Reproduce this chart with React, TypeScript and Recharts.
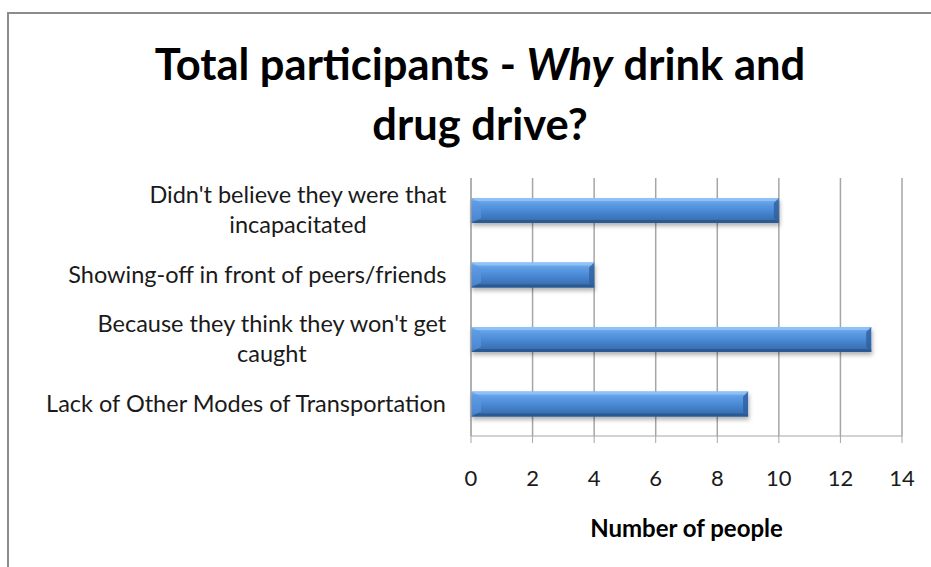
import { BarChart, Bar, XAxis, YAxis, CartesianGrid } from "recharts";

const categories = [
  "Didn't believe they were that\nincapacitated",
  "Showing-off in front of peers/friends",
  "Because they think they won't get\ncaught",
  "Lack of Other Modes of Transportation",
];
const people = [10, 4, 13, 9];
const xTicks = [0, 2, 4, 6, 8, 10, 12, 14];

const data = categories.map((reason, i) => ({ reason, people: people[i] }));

const FONT = "Lato, 'Open Sans', sans-serif";
const LABEL_SIZE = 23.5;

let ctx: CanvasRenderingContext2D | null = null;
function textWidth(s: string) {
  if (!ctx) ctx = document.createElement("canvas").getContext("2d");
  if (!ctx) return s.length * 11;
  ctx.font = `${LABEL_SIZE}px Lato`;
  return ctx.measureText(s).width;
}

// wrapped category label, lines centred on each other, block right aligned
function ReasonTick(props: any) {
  const { x, y, payload } = props;
  const lines: string[] = String(payload.value).split("\n");
  const right = x - 16;
  const widest = Math.max(...lines.map(textWidth));
  const cx = right - widest / 2;
  const lh = 30;
  const y0 = y - ((lines.length - 1) * lh) / 2;
  return (
    <g>
      {lines.map((line, i) => (
        <text
          key={i}
          x={cx}
          y={y0 + i * lh}
          dy="0.35em"
          textAnchor="middle"
          fontSize={LABEL_SIZE}
          fontFamily={FONT}
          fill="#1a1a1a"
        >
          {line}
        </text>
      ))}
    </g>
  );
}

function CylinderBar(props: any) {
  const { x, y, width, height } = props;
  if (!width || width <= 0) return null;
  const b = 5;
  return (
    <g filter="url(#barShadow)">
      <rect x={x} y={y} width={width} height={height} fill="url(#barBody)" />
      <rect x={x} y={y} width={width} height={3} fill="#8fc0f6" />
      <rect x={x} y={y + height - 3} width={width} height={3} fill="#2c5a94" />
      <polygon
        points={`${x},${y} ${x + b * 2},${y + b} ${x + b * 2},${y + height - b} ${x},${y + height}`}
        fill="#5b98e0"
        opacity={0.6}
      />
      <polygon
        points={`${x + width},${y} ${x + width - b},${y + b} ${x + width - b},${y + height - b} ${x + width},${y + height}`}
        fill="#2f5f9e"
        opacity={0.8}
      />
    </g>
  );
}

export default function App() {
  return (
    <div
      style={{
        position: "absolute",
        left: 0,
        top: 0,
        width: 931,
        height: 567,
        background: "#fff",
        overflow: "hidden",
        fontFamily: FONT,
      }}
    >
      <div
        style={{
          position: "absolute",
          left: 7,
          top: 12,
          width: 940,
          height: 600,
          borderLeft: "2px solid #8c8c8c",
          borderTop: "2px solid #8c8c8c",
        }}
      />
      <div
        style={{
          position: "absolute",
          left: 10,
          top: 33,
          width: 940,
          textAlign: "center",
          fontSize: 43.5,
          fontWeight: 700,
          lineHeight: "60px",
          color: "#000",
        }}
      >
        Total participants - <i>Why</i> drink and
        <br />
        drug drive?
      </div>
      <div style={{ position: "absolute", left: 0, top: 0 }}>
        <BarChart
          width={931}
          height={567}
          data={data}
          layout="vertical"
          margin={{ top: 178, right: 29, bottom: 101, left: 0 }}
          barSize={25}
        >
          <defs>
            <linearGradient id="barBody" x1="0" y1="0" x2="0" y2="1">
              <stop offset="0%" stopColor="#7ab2f0" />
              <stop offset="25%" stopColor="#5c9be4" />
              <stop offset="60%" stopColor="#4583cf" />
              <stop offset="100%" stopColor="#35679f" />
            </linearGradient>
            <filter id="barShadow" x="-5%" y="-30%" width="110%" height="180%">
              <feDropShadow dx="1" dy="3" stdDeviation="2" floodColor="#000" floodOpacity="0.3" />
            </filter>
          </defs>
          <CartesianGrid horizontal={false} stroke="#a6a6a6" strokeWidth={1.5} />
          <XAxis
            type="number"
            domain={[0, 14]}
            ticks={xTicks}
            interval={0}
            height={30}
            stroke="#a6a6a6"
            tickSize={7}
            tickMargin={27}
            tick={{ fill: "#1a1a1a", fontSize: 22, fontFamily: FONT }}
          />
          <YAxis
            type="category"
            dataKey="reason"
            width={471}
            stroke="#a6a6a6"
            tickLine={false}
            interval={0}
            tick={<ReasonTick />}
          />
          <Bar dataKey="people" shape={<CylinderBar />} isAnimationActive={false} />
        </BarChart>
      </div>
      <div
        style={{
          position: "absolute",
          left: 471,
          width: 431,
          top: 513,
          textAlign: "center",
          fontSize: 24,
          fontWeight: 700,
          color: "#000",
        }}
      >
        Number of people
      </div>
    </div>
  );
}
